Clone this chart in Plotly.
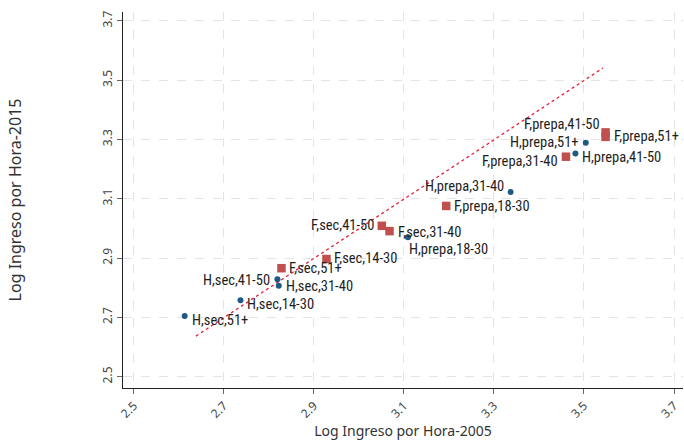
import plotly.graph_objects as go

# --- data ---
h_labels = ["H,sec,51+", "H,sec,14-30", "H,sec,41-50", "H,sec,31-40",
            "H,prepa,18-30", "H,prepa,31-40", "H,prepa,41-50", "H,prepa,51+"]
h_x = [2.613, 2.737, 2.819, 2.822, 3.109, 3.337, 3.481, 3.504]
h_y = [2.705, 2.758, 2.829, 2.807, 2.970, 3.123, 3.253, 3.289]

f_labels = ["F,sec,51+", "F,sec,14-30", "F,sec,41-50", "F,sec,31-40",
            "F,prepa,18-30", "F,prepa,31-40", "F,prepa,41-50", "F,prepa,51+"]
f_x = [2.828, 2.928, 3.051, 3.068, 3.194, 3.460, 3.548, 3.548]
f_y = [2.866, 2.897, 3.009, 2.991, 3.076, 3.242, 3.324, 3.309]

fit_x = [2.638, 3.542]
fit_y = [2.637, 3.541]

tick_vals = [2.5, 2.7, 2.9, 3.1, 3.3, 3.5, 3.7]
tick_text = ["2.5", "2.7", "2.9", "3.1", "3.3", "3.5", "3.7"]

# --- label placement styles (anchor, xshift, yshift) ---
h_pos = [("left", 5, -5), ("left", 5, -4), ("right", -5, -1), ("left", 5, -1),
         ("left", -1, -12), ("right", -5, 5), ("left", 5, -4), ("right", -5, 0)]
f_pos = [("left", 6, 0), ("left", 6, 1), ("right", -6, 0), ("left", 6, -1),
         ("left", 6, -1), ("right", -6, -5), ("right", -4, 8), ("left", 6, 0)]

BLUE = "#1f5a85"
RED = "#c0504d"
LABEL_FONT = dict(family="Noto Sans Condensed, Roboto Condensed, Liberation Sans Narrow, Roboto, sans-serif",
                  size=14.5, color="#1e1e1e")

fig = go.Figure()
fig.add_trace(go.Scatter(x=fit_x, y=fit_y, mode="lines",
                         line=dict(color="#e8203a", width=1.3, dash="dot"),
                         hoverinfo="skip", showlegend=False))
fig.add_trace(go.Scatter(x=h_x, y=h_y, mode="markers", text=h_labels,
                         marker=dict(color=BLUE, size=6, symbol="circle"),
                         showlegend=False))
fig.add_trace(go.Scatter(x=f_x, y=f_y, mode="markers", text=f_labels,
                         marker=dict(color=RED, size=8.5, symbol="square"),
                         showlegend=False))

annotations = []
for labels, xs, ys, pos in [(h_labels, h_x, h_y, h_pos), (f_labels, f_x, f_y, f_pos)]:
    for lab, x, y, (anchor, dx, dy) in zip(labels, xs, ys, pos):
        annotations.append(dict(x=x, y=y, text=lab, showarrow=False,
                                xanchor=anchor, yanchor="middle",
                                xshift=dx, yshift=dy, font=LABEL_FONT))

axis_common = dict(
    tickvals=tick_vals, ticktext=tick_text,
    showgrid=True, gridcolor="#e4e4e4", griddash="dash", gridwidth=1,
    zeroline=False, showline=True, linecolor="#222222", linewidth=1.2,
    ticks="outside", ticklen=5, tickcolor="#666666",
    tickfont=dict(family="Noto Sans, Open Sans, sans-serif", size=12, color="#444444"),
)

fig.update_layout(
    width=684, height=440,
    margin=dict(l=123, r=1, t=12, b=52),
    paper_bgcolor="white", plot_bgcolor="white",
    annotations=annotations,
    xaxis=dict(range=[2.476, 3.72], tickangle=-45,
               title=dict(text="Log Ingreso por Hora-2005", standoff=8,
                          font=dict(family="Noto Sans, Open Sans, sans-serif", size=14, color="#333333")),
               **axis_common),
    yaxis=dict(range=[2.462, 3.73], tickangle=-90,
               title=dict(text="Log Ingreso por Hora-2015", standoff=73,
                          font=dict(family="Noto Sans, Open Sans, sans-serif", size=16, color="#333333")),
               **axis_common),
)

fig.write_html("out.html", config={"displayModeBar": False},
               post_script="document.body.style.margin='0px';")
